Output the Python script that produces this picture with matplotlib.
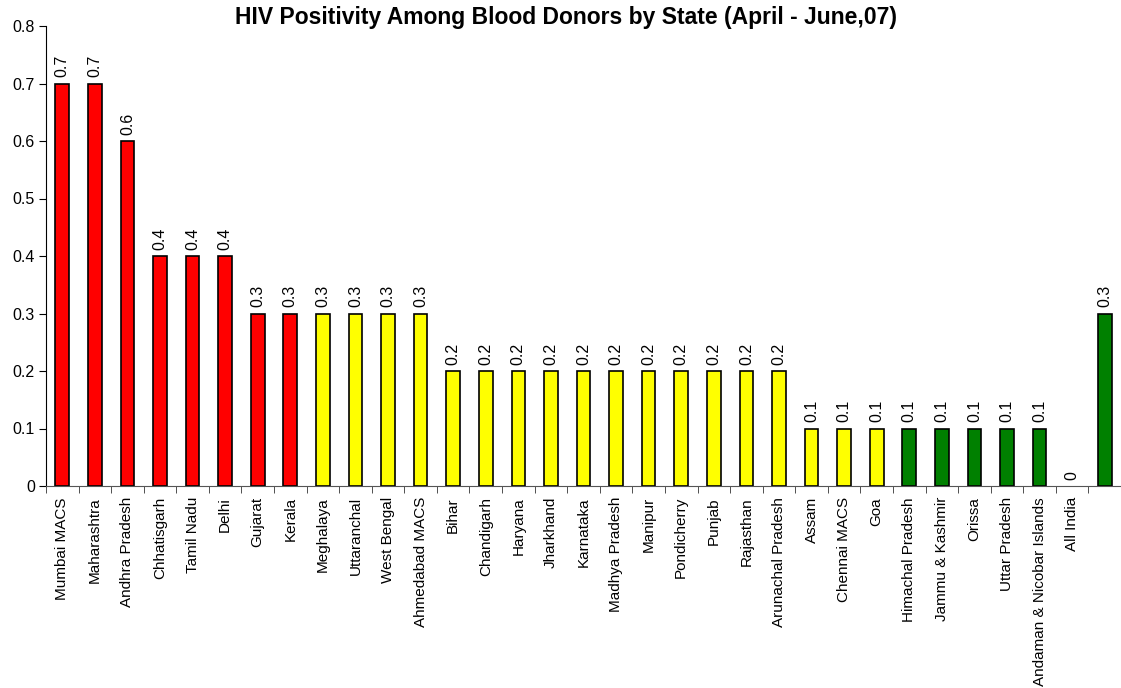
import matplotlib
matplotlib.use("Agg")
import matplotlib.pyplot as plt
import numpy as np

plt.rcParams['font.family'] = ['Liberation Sans', 'DejaVu Sans']

states = ["Mumbai MACS", "Maharashtra", "Andhra Pradesh", "Chhatisgarh", "Tamil Nadu",
          "Delhi", "Gujarat", "Kerala", "Meghalaya", "Uttaranchal", "West Bengal",
          "Ahmedabad MACS", "Bihar", "Chandigarh", "Haryana", "Jharkhand", "Karnataka",
          "Madhya Pradesh", "Manipur", "Pondicherry", "Punjab", "Rajasthan",
          "Arunachal Pradesh", "Assam", "Chennai MACS", "Goa", "Himachal Pradesh",
          "Jammu & Kashmir", "Orissa", "Uttar Pradesh", "Andaman & Nicobar Islands",
          "All India", ""]
positivity = [0.7, 0.7, 0.6, 0.4, 0.4, 0.4, 0.3, 0.3, 0.3, 0.3, 0.3, 0.3,
              0.2, 0.2, 0.2, 0.2, 0.2, 0.2, 0.2, 0.2, 0.2, 0.2, 0.2,
              0.1, 0.1, 0.1, 0.1, 0.1, 0.1, 0.1, 0.1, 0.0, 0.3]
bar_colors = (["#FF0000"] * 8 + ["#FFFF00"] * 18 + ["#008000"] * 7)
y_ticks = [0, 0.1, 0.2, 0.3, 0.4, 0.5, 0.6, 0.7, 0.8]
y_tick_labels = ["0", "0.1", "0.2", "0.3", "0.4", "0.5", "0.6", "0.7", "0.8"]

fig = plt.figure(figsize=(11.21, 6.88), dpi=100)
ax = fig.add_axes([46 / 1121, 1 - 486 / 688, 1 - 46 / 1121, (486 - 26) / 688])

x = np.arange(len(states))
# zero-height bars get no outline so they leave no stray stroke on the axis
edge_widths = [1.2 if v > 0 else 0 for v in positivity]
ax.bar(x, positivity, width=0.42, color=bar_colors, edgecolor="black",
       linewidth=edge_widths, zorder=2)

for xi, v in zip(x, positivity):
    ax.text(xi, v + 0.011, f"{v:g}", rotation=90, ha="center", va="bottom",
            fontsize=11.5, color="black")

ax.set_xlim(-0.5, len(states) - 0.5)
ax.set_ylim(0, 0.8)
ax.set_yticks(y_ticks)
ax.set_yticklabels(y_tick_labels, fontsize=11.5)

ax.set_xticks(x)
ax.set_xticklabels(states, rotation=90, fontsize=11, va="top")
ax.tick_params(axis="x", length=0, pad=8)
ax.set_xticks(np.arange(-0.5, len(states), 1), minor=True)
ax.tick_params(axis="x", which="minor", length=5, direction="out", color="#333333")
ax.tick_params(axis="y", length=5, direction="out", pad=3)

for side in ("top", "right"):
    ax.spines[side].set_visible(False)
ax.spines["left"].set_color("black")
ax.spines["bottom"].set_color("#555555")

fig.text(0.505, 0.9746, "HIV Positivity Among Blood Donors by State (April - June,07)",
         ha="center", va="center", fontsize=16.5, fontweight="bold")

fig.savefig("out.png", dpi=100)
